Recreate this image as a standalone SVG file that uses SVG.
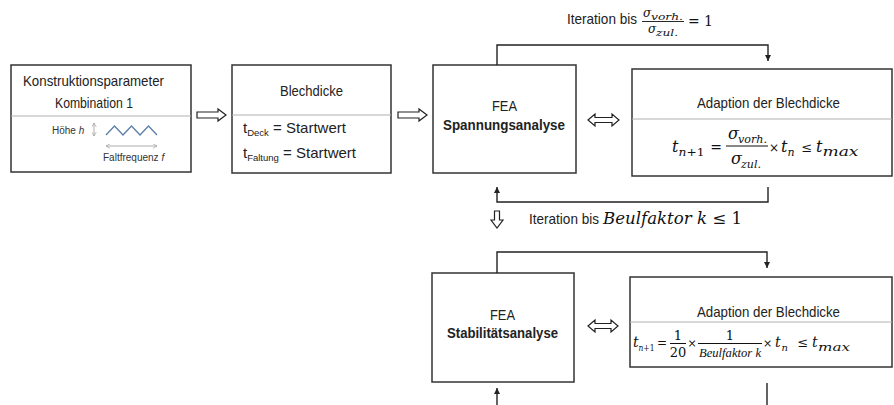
<svg xmlns="http://www.w3.org/2000/svg" width="894" height="405" viewBox="0 0 894 405">
<defs>
<style>
.box{fill:#fff;stroke:#333;stroke-width:1.5}
.div{stroke:#b0b0b0;stroke-width:1}
.t{font-family:"Liberation Sans",Arial,sans-serif;font-size:15px;fill:#222}
.b{font-weight:bold}
.s{font-family:"Liberation Sans",Arial,sans-serif;font-size:10px;fill:#333}
.m{font-family:"DejaVu Serif","Liberation Serif",serif;font-style:italic;fill:#111}
.r{font-style:normal}
.ln{fill:none;stroke:#222;stroke-width:1.4}
.ha{fill:#fff;stroke:#222;stroke-width:1.2}
.g{fill:none;stroke:#999;stroke-width:0.8}
</style>
<marker id="ah" viewBox="0 0 8 8" refX="8" refY="4" markerWidth="6" markerHeight="6" markerUnits="userSpaceOnUse" orient="auto"><path d="M0,0 L8,4 L0,8 z" fill="#222"/></marker>
<marker id="oa" viewBox="0 0 8 8" refX="7" refY="4" markerWidth="5" markerHeight="5" markerUnits="userSpaceOnUse" orient="auto-start-reverse"><path d="M0,0 L7,4 L0,8" fill="none" stroke="#999" stroke-width="1"/></marker>
</defs>
<rect width="894" height="405" fill="#fff"/>

<g id="n1">
<rect class="box" x="11" y="65" width="180" height="107"/>
<line class="div" x1="11" y1="116" x2="191" y2="116"/>
<text class="t" x="23" y="86" textLength="141" lengthAdjust="spacingAndGlyphs">Konstruktionsparameter</text>
<text class="t" x="55" y="108" textLength="78" lengthAdjust="spacingAndGlyphs">Kombination 1</text>
<text class="s" x="52" y="134">Höhe <tspan font-style="italic">h</tspan></text>
<line class="g" x1="94" y1="123" x2="94" y2="136" marker-start="url(#oa)" marker-end="url(#oa)"/>
<polyline points="106,135 114.5,126 123,135 131.5,126 140,135 148.5,126 157,135" fill="none" stroke="#5b7fa6" stroke-width="1.3"/>
<line class="g" x1="106" y1="146" x2="157" y2="146" marker-start="url(#oa)" marker-end="url(#oa)"/>
<text class="s" x="103" y="161">Faltfrequenz <tspan font-style="italic">f</tspan></text>
</g>

<g id="n2">
<rect class="box" x="232" y="65" width="159" height="108"/>
<line class="div" x1="232" y1="115" x2="391" y2="115"/>
<text class="t" x="280" y="96" textLength="63" lengthAdjust="spacingAndGlyphs">Blechdicke</text>
<text class="t" x="243" y="133" font-size="14.5">t<tspan font-size="9.5" dy="3">Deck</tspan><tspan dy="-3"> = Startwert</tspan></text>
<text class="t" x="243" y="158" font-size="14.5">t<tspan font-size="9.5" dy="3">Faltung</tspan><tspan dy="-3"> = Startwert</tspan></text>
</g>

<g id="n3">
<rect class="box" x="433" y="65" width="143" height="108"/>
<text class="t" x="492" y="111" textLength="25" lengthAdjust="spacingAndGlyphs">FEA</text>
<text class="t b" x="443" y="130" textLength="122" lengthAdjust="spacingAndGlyphs">Spannungsanalyse</text>
</g>

<g id="n4">
<rect class="box" x="632" y="69" width="260" height="107"/>
<line class="div" x1="632" y1="119" x2="892" y2="119"/>
<text class="t" x="697" y="108" textLength="143" lengthAdjust="spacingAndGlyphs">Adaption der Blechdicke</text>
<text class="m" x="672" y="152" font-size="16">t</text>
<text class="m" x="678.5" y="156" font-size="11" textLength="26" lengthAdjust="spacingAndGlyphs">n<tspan class="r">+1</tspan></text>
<text class="m r" x="716" y="152" font-size="14" text-anchor="middle">=</text>
<text class="m" x="728" y="139" font-size="16">σ</text>
<text class="m" x="738" y="143" font-size="11" textLength="29" lengthAdjust="spacingAndGlyphs">vorh.</text>
<line x1="726" y1="146" x2="768" y2="146" stroke="#111" stroke-width="1"/>
<text class="m" x="731" y="164" font-size="16">σ</text>
<text class="m" x="741" y="168" font-size="11" textLength="20" lengthAdjust="spacingAndGlyphs">zul.</text>
<text class="m" y="152" font-size="16"><tspan class="r" x="769" font-size="12">×</tspan><tspan x="781">t</tspan><tspan x="787.5" y="156" font-size="11">n</tspan><tspan class="r" x="801.5" y="152" font-size="13">≤</tspan><tspan x="816">t</tspan></text>
<text class="m" x="822.5" y="156" font-size="12" textLength="36" lengthAdjust="spacingAndGlyphs">max</text>
</g>

<g id="n5">
<rect class="box" x="432" y="273" width="142" height="109"/>
<text class="t" x="490" y="320" textLength="25" lengthAdjust="spacingAndGlyphs">FEA</text>
<text class="t b" x="447" y="338" textLength="111" lengthAdjust="spacingAndGlyphs">Stabilitätsanalyse</text>
</g>

<g id="n6">
<rect class="box" x="630" y="277" width="262" height="90"/>
<line class="div" x1="630" y1="322" x2="892" y2="322"/>
<text class="t" x="697" y="317" textLength="143" lengthAdjust="spacingAndGlyphs">Adaption der Blechdicke</text>
<text class="m" x="633" y="347" font-size="14">t</text>
<text class="m" x="638.5" y="351" font-size="10" textLength="16" lengthAdjust="spacingAndGlyphs">n<tspan class="r">+1</tspan></text>
<text class="m r" x="662" y="347" font-size="12" text-anchor="middle">=</text>
<text class="m r" x="678" y="340" font-size="13" text-anchor="middle">1</text>
<line x1="670" y1="343.5" x2="686" y2="343.5" stroke="#111" stroke-width="1"/>
<text class="m r" x="678" y="357" font-size="13" text-anchor="middle">20</text>
<text class="m r" x="692" y="347" font-size="11" text-anchor="middle">×</text>
<text class="m r" x="730" y="340" font-size="13" text-anchor="middle">1</text>
<line x1="698" y1="343.5" x2="762" y2="343.5" stroke="#111" stroke-width="1"/>
<text x="699" y="357" font-family="Liberation Serif, serif" font-style="italic" font-size="13.5" fill="#111" textLength="62" lengthAdjust="spacingAndGlyphs">Beulfaktor k</text>
<text class="m" y="347" font-size="14"><tspan class="r" x="763" font-size="11">×</tspan><tspan x="775">t</tspan><tspan x="781.5" y="351" font-size="10">n</tspan><tspan class="r" x="797.5" y="347" font-size="13">≤</tspan><tspan x="812">t</tspan></text>
<text class="m" x="818" y="351" font-size="11" textLength="32" lengthAdjust="spacingAndGlyphs">max</text>
</g>

<g id="labels">
<text class="t" x="567" y="24" textLength="70" lengthAdjust="spacingAndGlyphs">Iteration bis</text>
<text class="m" x="643" y="17" font-size="12">σ</text>
<text class="m" x="651" y="20" font-size="9.5" textLength="32" lengthAdjust="spacingAndGlyphs">vorh.</text>
<line x1="642" y1="21.5" x2="684" y2="21.5" stroke="#111" stroke-width="0.9"/>
<text class="m" x="648" y="33" font-size="12">σ</text>
<text class="m" x="656" y="36" font-size="9.5" textLength="22" lengthAdjust="spacingAndGlyphs">zul.</text>
<text class="m r" x="688" y="26" font-size="14" textLength="25" lengthAdjust="spacingAndGlyphs">= 1</text>
<text class="t" x="529" y="224" textLength="70" lengthAdjust="spacingAndGlyphs">Iteration bis</text>
<text class="m" x="603" y="224" font-size="16" textLength="139" lengthAdjust="spacingAndGlyphs">Beulfaktor k <tspan class="r">≤ 1</tspan></text>
</g>

<g id="connectors">
<polygon class="ha" points="197,112 218,112 218,109 226,115 218,121 218,118 197,118"/>
<polygon class="ha" points="398,112 419,112 419,109 427,115 419,121 419,118 398,118"/>
<polygon class="ha" points="588,120 595,114 595,117.5 612,117.5 612,114 619,120 612,126 612,122.5 595,122.5 595,126"/>
<polygon class="ha" points="588,326 595,320 595,323.5 611,323.5 611,320 618,326 611,332 611,328.5 595,328.5 595,332"/>
<polygon class="ha" points="494.5,211 499.5,211 499.5,220 503,220 497,228 491,220 494.5,220"/>
<polyline class="ln" points="497,65 497,45 768,45 768,61" marker-end="url(#ah)"/>
<polyline class="ln" points="768,187 768,202 497,202 497,187" marker-end="url(#ah)"/>
<polyline class="ln" points="497,273 497,252 767,252 767,268" marker-end="url(#ah)"/>
<line class="ln" x1="767" y1="383" x2="767" y2="405"/>
<line class="ln" x1="497" y1="405" x2="497" y2="388" marker-end="url(#ah)"/>
</g>
</svg>
